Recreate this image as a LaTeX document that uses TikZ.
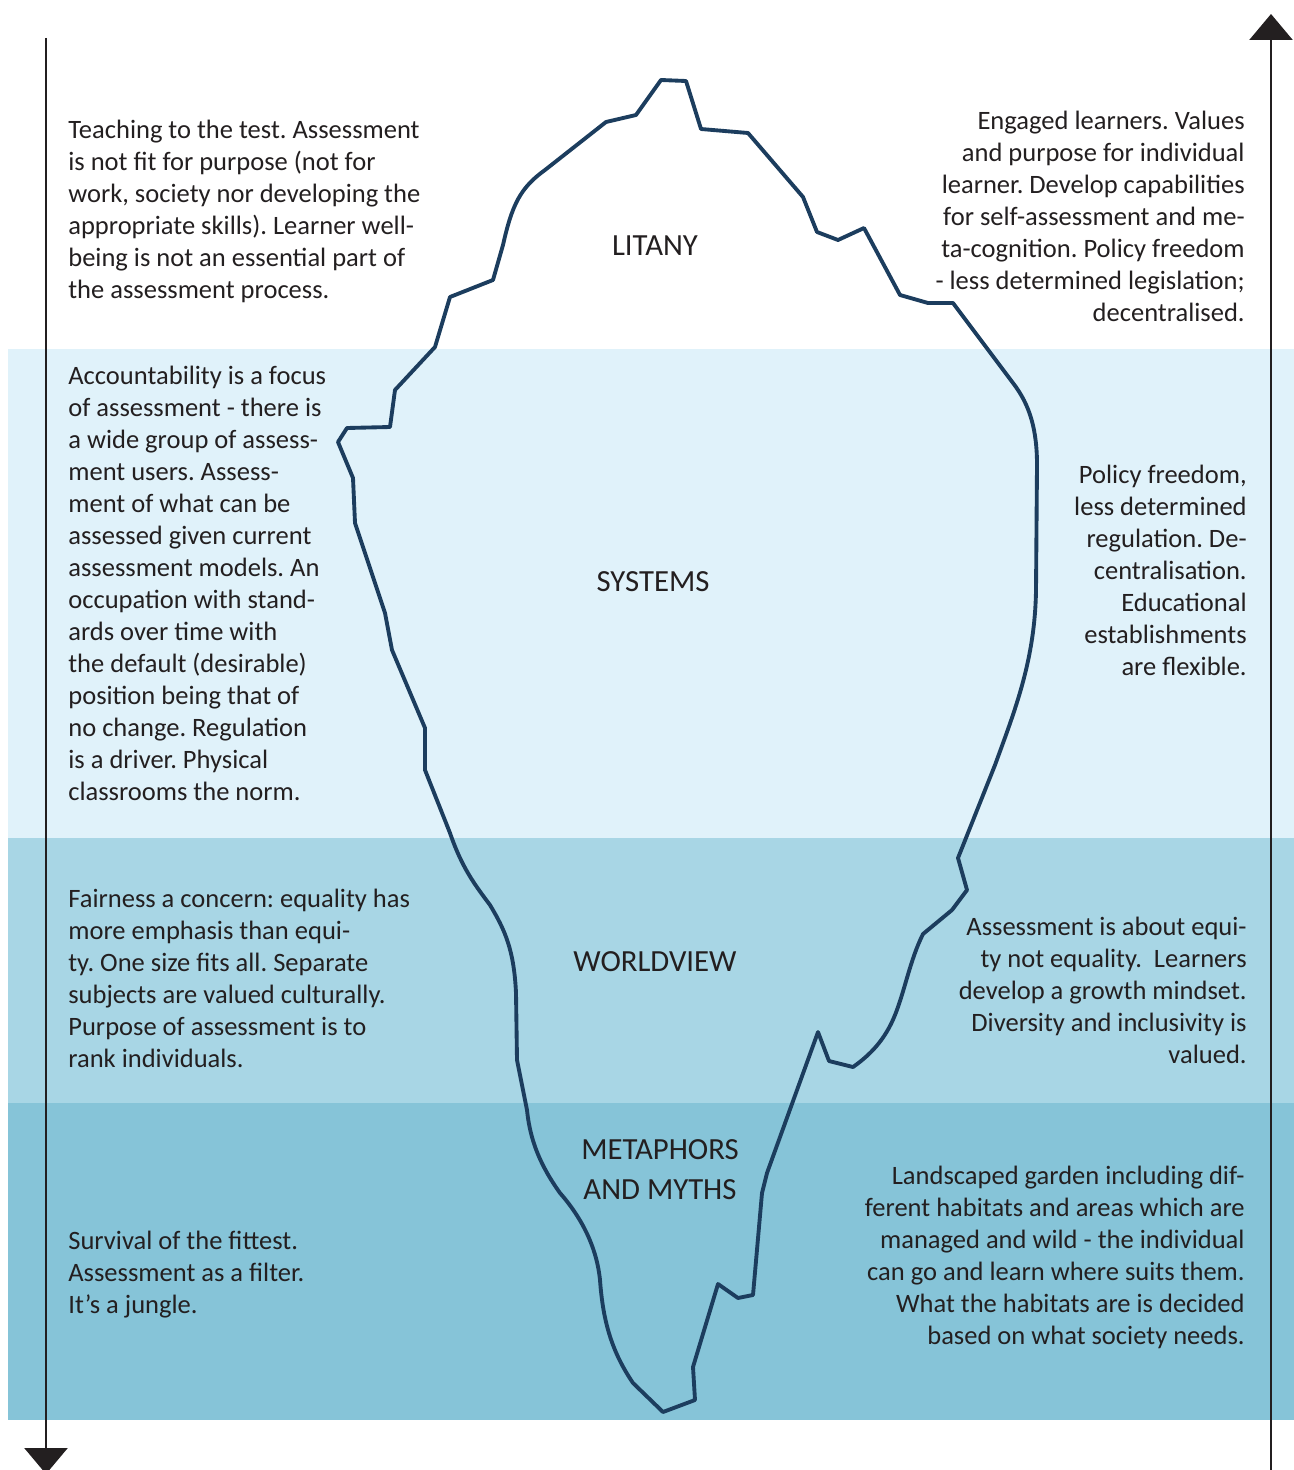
\documentclass[tikz,border=0pt]{standalone}
\usepackage{fontspec}
\setmainfont{Carlito}
\usetikzlibrary{arrows.meta}
\definecolor{ink}{RGB}{35,31,32}
\definecolor{bergline}{RGB}{28,61,94}
\definecolor{bandA}{RGB}{224,242,250}
\definecolor{bandB}{RGB}{168,214,229}
\definecolor{bandC}{RGB}{134,196,216}
\frenchspacing

\begin{document}
\begin{tikzpicture}[x=0.02cm, y=-0.02cm,
    body/.style={inner sep=0pt, text=ink, font=\fontsize{15.1}{18.2}\selectfont},
    lbody/.style={body, anchor=north west, align=left},
    rbody/.style={body, anchor=north east, align=right},
    layer/.style={inner sep=0pt, text=ink, align=center, font=\fontsize{17.5}{22.7}\selectfont},
    axis/.style={line width=1.5pt, draw=ink, -{Triangle[length=0.52cm, width=0.86cm]}},
    berg/.style={line width=2.2pt, draw=bergline, line join=round}]
\useasboundingbox (0,0) rectangle (1294,1470);

% depth bands
\fill[bandA] (8,349) rectangle (1294,838);
\fill[bandB] (8,838) rectangle (1294,1103);
\fill[bandC] (8,1103) rectangle (1294,1420);

% the iceberg
\draw[berg] (493,280) -- (503,245) .. controls (512,205) and (520,188) .. (545,170)
  -- (606,122) -- (636,115) -- (661,80) -- (686,81) -- (701,129) -- (748,133)
  -- (803,197) -- (817,232) -- (838,240) -- (864,228) -- (900,295) -- (928,303) -- (953,303)
  -- (1013,383) .. controls (1030,405) and (1037,430) .. (1037,465)
  -- (1036,590) .. controls (1035,660) and (1015,710) .. (995,765)
  -- (958,858) -- (967,890) -- (952,910) -- (923,934)
  .. controls (910,960) and (905,990) .. (895,1015)
  .. controls (885,1040) and (870,1055) .. (853,1067)
  -- (829,1061) -- (818,1032) -- (767,1173) -- (762,1193) -- (753,1295)
  -- (738,1298) -- (718,1284) -- (693,1367) -- (695,1400) -- (663,1412) -- (633,1383)
  .. controls (612,1352) and (603,1322) .. (600,1280)
  .. controls (596,1240) and (575,1210) .. (560,1193)
  .. controls (540,1165) and (530,1140) .. (527,1110)
  -- (517,1060) -- (516,993)
  .. controls (514,950) and (505,930) .. (490,905)
  .. controls (475,885) and (462,868) .. (450,833)
  -- (425,770) -- (425,728) -- (392,650) -- (385,613) -- (355,523) -- (353,478)
  -- (338,442) -- (347,428) -- (390,427) -- (395,390) -- (435,347) -- (450,297) -- cycle;

% the two axes
\coordinate (downstart) at (46,38);
\coordinate (downend) at (46,1474);
\coordinate (upstart) at (1271,1470);
\coordinate (upend) at (1271,14);
\draw[axis] (downstart) -- (downend);
\draw[axis] (upstart) -- (upend);

% layer names
\node[layer] (litany) at (655,246) {LITANY};
\node[layer] (systems) at (653,582) {SYSTEMS};
\node[layer] (worldview) at (655,962) {WORLDVIEW};
\node[layer] (myths) at (660,1170) {METAPHORS\\AND MYTHS};

% left column
\node[lbody] (teaching) at (68,120) {Teaching to the test. Assessment\\is not fit for purpose (not for\\work, society nor developing the\\appropriate skills). Learner well-\\being is not an essential part of\\the assessment process.};
\node[lbody] (account) at (68,366) {Accountability is a focus\\of assessment - there is\\a wide group of assess-\\ment users. Assess-\\ment of what can be\\assessed given current\\assessment models. An\\occupation with stand-\\ards over time with\\the default (desirable)\\position being that of\\no change. Regulation\\is a driver. Physical\\classrooms the norm.};
\node[lbody] (fairness) at (68,889) {Fairness a concern: equality has\\more emphasis than equi-\\ty. One size fits all. Separate\\subjects are valued culturally.\\Purpose of assessment is to\\rank individuals.};
\node[lbody] (survival) at (68,1231) {Survival of the fittest.\\Assessment as a filter.\\It’s a jungle.};

% right column
\node[rbody] (engaged) at (1245,111) {Engaged learners. Values\\and purpose for individual\\learner. Develop capabilities\\for self-assessment and me-\\ta-cognition. Policy freedom\\- less determined legislation;\\decentralised.};
\node[rbody] (freedom) at (1247,465) {Policy freedom,\\less determined\\regulation. De-\\centralisation.\\Educational\\establishments\\are flexible.};
\node[rbody] (equity) at (1247,917) {Assessment is about equi-\\ty not equality.\ \ Learners\\develop a growth mindset.\\Diversity and inclusivity is\\valued.};
\node[rbody] (garden) at (1245,1166) {Landscaped garden including dif-\\ferent habitats and areas which are\\managed and wild - the individual\\can go and learn where suits them.\\What the habitats are is decided\\based on what society needs.};
\end{tikzpicture}
\end{document}
